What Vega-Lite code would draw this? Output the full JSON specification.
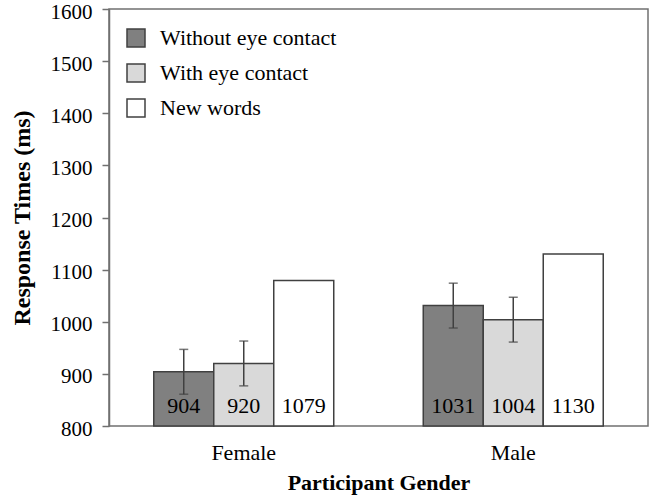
{
  "$schema": "https://vega.github.io/schema/vega-lite/v6.json",
  "autosize": "none",
  "width": 539,
  "height": 417,
  "padding": {"left": 109, "top": 9, "right": 1, "bottom": 71},
  "background": "white",
  "config": {
    "font": "Liberation Serif",
    "view": {"stroke": "#707070", "strokeWidth": 1.5},
    "axis": {"labelFont": "Liberation Serif", "titleFont": "Liberation Serif", "labelColor": "black", "titleColor": "black"},
    "legend": {"labelFont": "Liberation Serif"}
  },
  "data": {
    "values": [
      {"gender": "Female", "condition": "Without eye contact", "rt": 904, "lo": 861, "hi": 947},
      {"gender": "Female", "condition": "With eye contact", "rt": 920, "lo": 877, "hi": 963},
      {"gender": "Female", "condition": "New words", "rt": 1079, "lo": null, "hi": null},
      {"gender": "Male", "condition": "Without eye contact", "rt": 1031, "lo": 988, "hi": 1074},
      {"gender": "Male", "condition": "With eye contact", "rt": 1004, "lo": 961, "hi": 1047},
      {"gender": "Male", "condition": "New words", "rt": 1130, "lo": null, "hi": null}
    ]
  },
  "encoding": {
    "x": {
      "field": "gender", "type": "nominal",
      "scale": {"paddingInner": 0, "paddingOuter": 0},
      "axis": {"title": "Participant Gender", "labelAngle": 0, "ticks": false, "domain": false,
               "labelFontSize": 22, "labelPadding": 16, "titleFontSize": 22, "titleFontWeight": "bold", "titlePadding": 9}
    },
    "xOffset": {
      "field": "condition", "type": "nominal",
      "sort": ["Without eye contact", "With eye contact", "New words"],
      "scale": {"paddingInner": 0, "paddingOuter": 0.746}
    }
  },
  "layer": [
    {
      "mark": {"type": "bar", "stroke": "#404040", "strokeWidth": 1.5},
      "encoding": {
        "y": {
          "field": "rt", "type": "quantitative",
          "scale": {"domain": [800, 1600], "nice": false, "zero": false},
          "axis": {"title": "Response Times (ms)", "values": [800, 900, 1000, 1100, 1200, 1300, 1400, 1500, 1600], "format": "d",
                   "grid": false, "tickSize": 7, "tickColor": "#707070", "tickWidth": 1.5, "domainColor": "#707070", "domainWidth": 1.5,
                   "labelFontSize": 21, "labelPadding": 10, "labelOffset": 3, "labelFlush": false, "labelOverlap": false,
                   "titleFontSize": 24, "titleFontWeight": "bold", "titlePadding": 16}
        },
        "y2": {"datum": 800},
        "color": {
          "field": "condition", "type": "nominal",
          "sort": ["Without eye contact", "With eye contact", "New words"],
          "scale": {"domain": ["Without eye contact", "With eye contact", "New words"], "range": ["#808080", "#d9d9d9", "#ffffff"]},
          "legend": {
            "title": null, "orient": "none", "legendX": 16, "legendY": 18,
            "symbolType": "square", "symbolSize": 324, "symbolStrokeColor": "#404040", "symbolStrokeWidth": 1.5,
            "labelFontSize": 22, "labelFont": "Liberation Serif", "labelColor": "black", "labelOffset": 13, "rowPadding": 11, "labelLimit": 0
          }
        }
      }
    },
    {
      "mark": {"type": "rule", "color": "#404040", "strokeWidth": 1.5},
      "encoding": {
        "y": {"field": "lo", "type": "quantitative"},
        "y2": {"field": "hi"}
      }
    },
    {
      "mark": {"type": "tick", "color": "#404040", "thickness": 1.5, "size": 9},
      "encoding": {"y": {"field": "lo", "type": "quantitative"}}
    },
    {
      "mark": {"type": "tick", "color": "#404040", "thickness": 1.5, "size": 9},
      "encoding": {"y": {"field": "hi", "type": "quantitative"}}
    },
    {
      "mark": {"type": "text", "fontSize": 22, "font": "Liberation Serif", "color": "black", "baseline": "alphabetic", "dy": -13},
      "encoding": {
        "y": {"datum": 800},
        "text": {"field": "rt", "type": "quantitative"}
      }
    }
  ]
}
